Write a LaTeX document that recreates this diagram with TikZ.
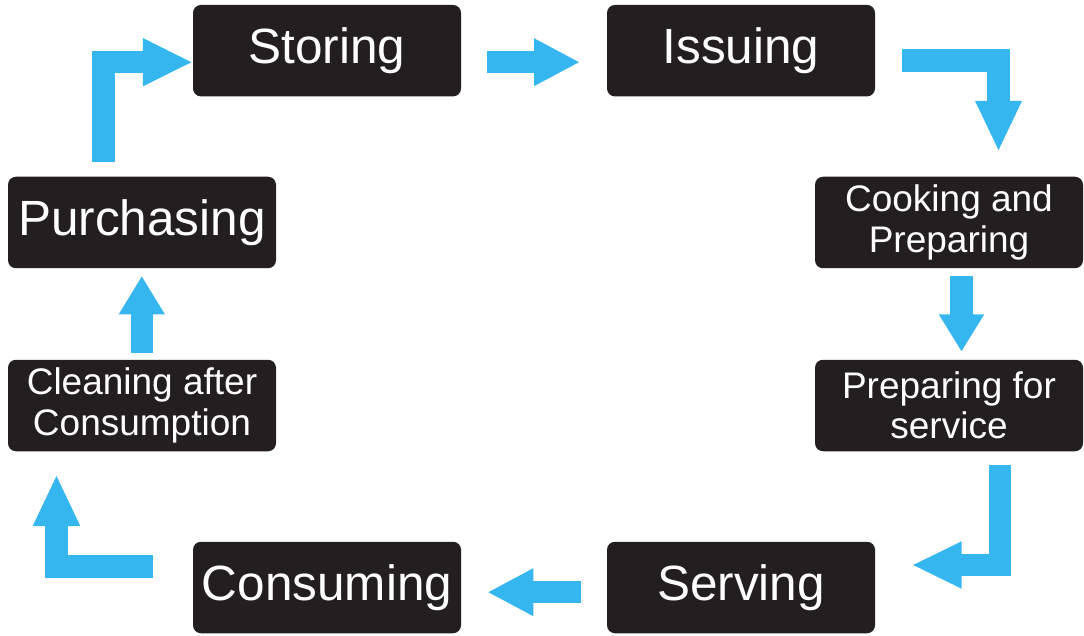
\documentclass[tikz,border=0pt]{standalone}
\usepackage{fontspec}
\setmainfont{Liberation Sans}
\usetikzlibrary{arrows.meta}
\definecolor{boxdark}{HTML}{231F20}
\definecolor{arrowblue}{HTML}{35B6EF}
\tikzset{
  stagebox/.style={fill=boxdark, rounded corners=8pt, text=white, minimum width=268pt, minimum height=91.5pt, inner sep=0pt, align=center},
  bigtext/.style={font=\fontsize{49.5}{53}\selectfont},
  smalltext/.style={font=\fontsize{37}{40.5}\selectfont},
  blockarrow/.style={draw=arrowblue, line width=22.5pt, line join=miter, line cap=butt},
}
\begin{document}
\begin{tikzpicture}[x=1pt,y=-1pt]
\useasboundingbox (0,0) rectangle (1084,636);
\node[stagebox,bigtext] (storing) at (327,50.7) {Storing};
\node[stagebox,bigtext] (issuing) at (741,50.7) {Issuing};
\node[stagebox,smalltext] (cooking) at (949,222.5) {Cooking and\\Preparing};
\node[stagebox,smalltext] (prepserv) at (949,405.5) {Preparing for\\service};
\node[stagebox,bigtext] (serving) at (741,587.5) {Serving};
\node[stagebox,bigtext] (consuming) at (327,587.5) {Consuming};
\node[stagebox,smalltext] (cleaning) at (142,405.5) {Cleaning after\\Consumption};
\node[stagebox,bigtext] (purchasing) at (142,222.5) {Purchasing};

% connectors
\coordinate (a1s) at (103.3,161.7);
\coordinate (a1c) at (103.3,62.2);
\draw[blockarrow, -{Triangle[length=50pt,width=44.3pt]}] (a1s) -- (a1c) -- (storing.west |- a1c);

\coordinate (a2s) at (486.7,62.2);
\coordinate (a2e) at (580,62.2);
\draw[blockarrow, -{Triangle[length=46pt,width=44.3pt]}] (a2s) -- (a2e);

\coordinate (a3s) at (902.3,60.5);
\coordinate (a3c) at (998.5,60.5);
\coordinate (a3e) at (998.5,151.7);
\draw[blockarrow, -{Triangle[length=50.7pt,width=42.7pt]}] (a3s) -- (a3c) -- (a3e);

\coordinate (a4s) at (961.5,276);
\coordinate (a4e) at (961.5,351.7);
\draw[blockarrow, -{Triangle[length=37.4pt,width=42.7pt]}] (a4s) -- (a4e);

\coordinate (a5s) at (1000,465);
\coordinate (a5c) at (1000,565);
\coordinate (a5e) at (911.7,565);
\draw[blockarrow, -{Triangle[length=50pt,width=43.4pt]}] (a5s) -- (a5c) -- (a5e);

\coordinate (a6s) at (580.7,592.2);
\coordinate (a6e) at (487.3,592.2);
\draw[blockarrow, -{Triangle[length=46pt,width=44.3pt]}] (a6s) -- (a6e);

\coordinate (a7s) at (153.3,566.3);
\coordinate (a7c) at (56.5,566.3);
\coordinate (a7e) at (56.5,474.3);
\draw[blockarrow, -{Triangle[length=51.7pt,width=43.3pt]}] (a7s) -- (a7c) -- (a7e);

\coordinate (a8s) at (141.8,352.7);
\coordinate (a8e) at (141.8,276);
\draw[blockarrow, -{Triangle[length=38.3pt,width=43.3pt]}] (a8s) -- (a8e);
\end{tikzpicture}
\end{document}
